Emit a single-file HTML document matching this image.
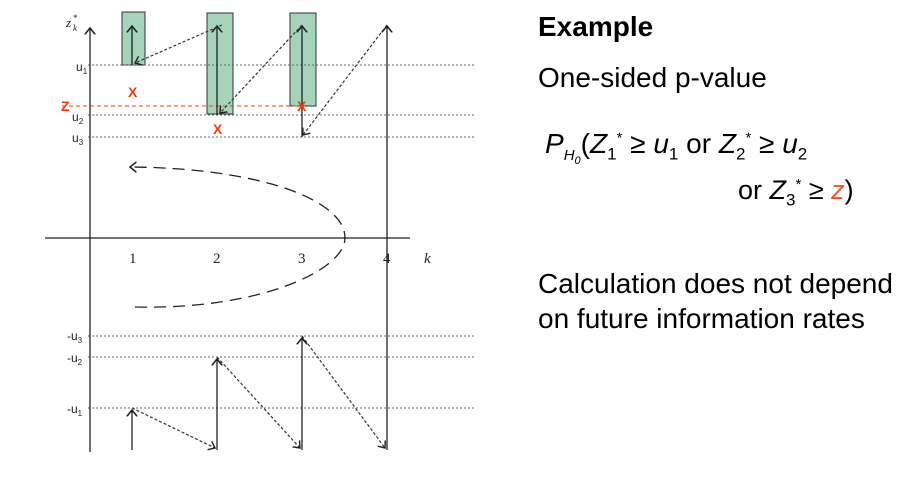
<!DOCTYPE html>
<html><head><style>
body{margin:0;width:913px;height:493px;background:#fff;overflow:hidden;font-family:"Liberation Sans",sans-serif;}
.t{position:absolute;color:#000;font-size:28px;white-space:nowrap;}
</style></head><body>
<svg width="913" height="493" style="position:absolute;left:0;top:0" font-family="Liberation Sans, sans-serif">
<defs>
<marker id="a" markerWidth="10" markerHeight="10" refX="5" refY="5" orient="auto"><path d="M0,1 L5,5 L0,9" fill="none" stroke="#222" stroke-width="1.2"/></marker>
</defs>
<g fill="#a6d4b8" stroke="#333" stroke-width="1">
<rect x="122" y="12" width="23" height="53"/>
<rect x="207" y="13" width="26" height="101"/>
<rect x="290" y="13" width="26" height="93"/>
</g>
<g stroke="#666" stroke-width="1" stroke-dasharray="2,2">
<line x1="88" y1="65" x2="475" y2="65"/>
<line x1="88" y1="115" x2="475" y2="115"/>
<line x1="88" y1="137" x2="475" y2="137"/>
<line x1="88" y1="336" x2="475" y2="336"/>
<line x1="88" y1="357" x2="475" y2="357"/>
<line x1="88" y1="408" x2="475" y2="408"/>
</g>
<line x1="62" y1="106" x2="300" y2="106" stroke="#f04020" stroke-dasharray="4,3"/>
<g stroke="#222" stroke-width="1.3" fill="none">
<line x1="90" y1="452" x2="90" y2="28" marker-end="url(#a)"/>
<line x1="45" y1="238" x2="410" y2="238"/>
<line x1="132" y1="65" x2="132" y2="26" marker-end="url(#a)"/>
<line x1="217" y1="115" x2="217" y2="26" marker-end="url(#a)"/>
<line x1="302" y1="137" x2="302" y2="26" marker-end="url(#a)"/>
<line x1="387" y1="450" x2="387" y2="26" marker-end="url(#a)"/>
<line x1="132" y1="450" x2="132" y2="410" marker-end="url(#a)"/>
<line x1="217" y1="450" x2="217" y2="359" marker-end="url(#a)"/>
<line x1="302" y1="450" x2="302" y2="338" marker-end="url(#a)"/>
</g>
<g stroke="#333" stroke-width="1.2" fill="none" stroke-dasharray="3,2">
<line x1="222" y1="25" x2="135" y2="63" marker-end="url(#a)"/>
<line x1="302" y1="25" x2="220" y2="113" marker-end="url(#a)"/>
<line x1="387" y1="25" x2="303" y2="135" marker-end="url(#a)"/>
<line x1="132" y1="408" x2="215" y2="448" marker-end="url(#a)"/>
<line x1="217" y1="357" x2="300" y2="448" marker-end="url(#a)"/>
<line x1="302" y1="336" x2="385" y2="448" marker-end="url(#a)"/>
</g>
<path d="M135,307 C260,310 345,270 345,238 C345,200 260,168 130,167" stroke="#222" stroke-width="1.3" fill="none" stroke-dasharray="12,7" marker-end="url(#a)"/>
<g font-family="Liberation Serif, serif" font-size="15" fill="#222">
<text x="129" y="263">1</text><text x="213" y="263">2</text><text x="298" y="263">3</text><text x="383" y="263">4</text>
<text x="424" y="263" font-style="italic">k</text>
<text x="66" y="27" font-style="italic" font-size="13">z</text><text x="73" y="31" font-style="italic" font-size="9">k</text><text x="73" y="21" font-size="9">*</text>
</g>
<g font-size="12" fill="#222">
<text x="76" y="71">u<tspan font-size="8" dy="3">1</tspan></text>
<text x="72" y="121">u<tspan font-size="8" dy="3">2</tspan></text>
<text x="72" y="142">u<tspan font-size="8" dy="3">3</tspan></text>
<text x="67" y="340">-u<tspan font-size="8" dy="3">3</tspan></text>
<text x="67" y="362">-u<tspan font-size="8" dy="3">2</tspan></text>
<text x="67" y="413">-u<tspan font-size="8" dy="3">1</tspan></text>
</g>
<g fill="#f03a10" font-weight="bold" font-size="14">
<text x="61" y="111">Z</text>
<text x="128" y="97">X</text><text x="213" y="134">X</text><text x="297" y="111">X</text>
</g>
</svg>
<div class="t" style="left:538px;top:11px;font-weight:bold;">Example</div>
<div class="t" style="left:538px;top:62px;">One-sided p-value</div>
<div class="t" style="left:545px;top:128px;font-size:28px;"><i>P<sub style="font-size:15px">H<sub style="font-size:11px">0</sub></sub></i>(<i>Z</i><sub style="font-size:17px">1</sub><sup style="font-size:15px">*</sup> ≥ <i>u</i><sub style="font-size:17px">1</sub> or <i>Z</i><sub style="font-size:17px">2</sub><sup style="font-size:15px">*</sup> ≥ <i>u</i><sub style="font-size:17px">2</sub></div>
<div class="t" style="left:738px;top:175px;font-size:27px;">or <i>Z</i><sub style="font-size:17px">3</sub><sup style="font-size:15px">*</sup> ≥ <i style="color:#f05030">z</i>)</div>
<div class="t" style="left:538px;top:268px;">Calculation does not depend</div>
<div class="t" style="left:538px;top:303px;">on future information rates</div>
</body></html>
